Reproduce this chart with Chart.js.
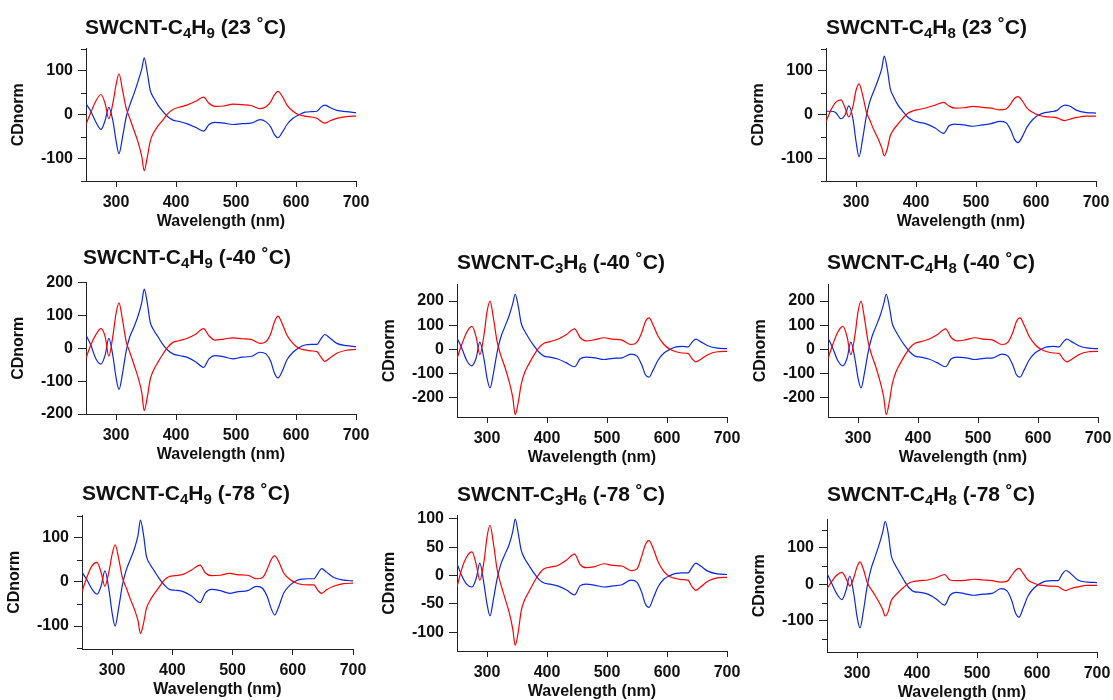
<!DOCTYPE html>
<html>
<head>
<meta charset="utf-8">
<script src="https://cdn.jsdelivr.net/npm/chart.js@4.4.1/dist/chart.umd.min.js"></script>
<style>
  html, body { margin: 0; padding: 0; background: #fff; }
  body { width: 1113px; height: 700px; position: relative; overflow: hidden;
         font-family: "Liberation Sans", Arial, Helvetica, sans-serif; }
  canvas { position: absolute; }
  .ttl { position: absolute; font-weight: bold; font-size: 21px; line-height: 20px;
         color: #111; white-space: nowrap; }
  .ttl sub { font-size: 15px; line-height: 0; vertical-align: -4px; }
</style>
</head>
<body>
<script>
// Wavelength grid (nm) shared by every CD spectrum
const wavelength = [250, 258, 266, 275, 282, 288, 295, 300, 305, 311,
  317, 323, 330, 337, 343, 347, 352, 357, 363, 370,
  378, 386, 395, 405, 418, 432, 446, 455, 465, 480,
  495, 510, 525, 540, 550, 558, 564, 570, 577, 585,
  595, 605, 615, 625, 635, 642, 648, 656, 668, 684, 700];

// SWCNT-C4H9, 23 °C
const c4h9_23_red = [-21, 5, 30, 46, 25, -9, 28, 67, 93, 55, 15, -8, -35, -63, -95, -127, -97, -60, -40, -25,
  -12, 2, 12, 17, 22, 30, 40, 26, 19, 20, 24, 23, 21, 14, 18, 30, 45, 53, 42, 22, 8, 0, -3, -5, -8, -15, -19, -14, -8, -4, -3];
const c4h9_23_blue = [25, 8, -15, -33, -12, 17, -15, -58, -88, -50, -5, 22, 48, 77, 104, 129, 97, 56, 38, 22,
  8, -4, -12, -15, -20, -28, -37, -22, -17, -19, -22, -20, -19, -11, -16, -28, -45, -52, -40, -22, -8, 0, 6, 7, 8, 18, 22, 17, 10, 7, 5];

// SWCNT-C4H9, -40 °C
const c4h9_m40_red = [-30, 10, 40, 60, 35, -24, 40, 105, 138, 85, 20, -12, -50, -90, -135, -190, -150, -95, -65, -42,
  -18, 3, 18, 23, 30, 42, 60, 38, 25, 28, 32, 29, 27, 15, 20, 45, 80, 98, 75, 40, 15, 0, -5, -8, -10, -28, -40, -30, -15, -6, -3];
const c4h9_m40_blue = [40, 10, -30, -48, -20, 30, -25, -88, -125, -75, -8, 35, 65, 100, 140, 180, 140, 80, 55, 35,
  12, -5, -17, -22, -27, -40, -58, -32, -22, -26, -32, -27, -25, -12, -17, -40, -75, -90, -70, -35, -12, 2, 10, 12, 12, 30, 42, 32, 15, 8, 5];

// SWCNT-C4H9, -78 °C
const c4h9_m78_red = [-22, 10, 35, 44, 20, -10, 25, 62, 84, 52, 10, -12, -38, -62, -88, -117, -95, -60, -42, -27,
  -12, 3, 12, 14, 17, 27, 38, 20, 14, 15, 19, 16, 15, 7, 10, 30, 50, 59, 45, 20, 6, -2, -6, -7, -7, -20, -26, -18, -10, -4, -3];
const c4h9_m78_blue = [22, 5, -15, -28, -8, 25, -20, -70, -100, -58, -8, 25, 50, 75, 105, 140, 108, 58, 40, 25,
  8, -6, -17, -19, -22, -32, -47, -25, -17, -20, -26, -22, -20, -10, -15, -35, -60, -75, -55, -25, -8, 2, 6, 7, 7, 20, 30, 22, 10, 4, 2];

// SWCNT-C3H6, -40 °C
const c3h6_m40_red = [-38, 20, 70, 95, 50, -22, 60, 155, 200, 125, 30, -25, -75, -135, -200, -270, -220, -145, -95, -60,
  -25, 5, 25, 32, 42, 60, 85, 50, 35, 40, 48, 42, 38, 20, 30, 70, 115, 130, 100, 55, 20, 0, -10, -15, -17, -40, -52, -42, -22, -10, -8];
const c3h6_m40_blue = [47, 5, -45, -68, -35, 30, -40, -118, -160, -95, -10, 50, 95, 140, 190, 228, 180, 108, 75, 45,
  15, -10, -28, -32, -40, -55, -72, -40, -32, -35, -42, -37, -35, -20, -28, -65, -105, -115, -85, -45, -15, 0, 10, 12, 10, 30, 42, 32, 15, 5, 3];

// SWCNT-C3H6, -78 °C
const c3h6_m78_red = [-20, 12, 33, 42, 20, -8, 25, 68, 89, 55, 10, -15, -40, -65, -95, -123, -100, -62, -42, -28,
  -12, 2, 12, 15, 18, 27, 38, 20, 14, 16, 21, 18, 17, 9, 12, 35, 55, 62, 48, 25, 7, -2, -5, -7, -8, -20, -26, -20, -10, -4, -3];
const c3h6_m78_blue = [21, 0, -15, -20, -5, 22, -15, -50, -71, -40, -5, 20, 38, 55, 78, 100, 75, 45, 30, 18,
  5, -6, -13, -15, -18, -25, -34, -18, -15, -17, -20, -18, -16, -8, -12, -30, -50, -56, -40, -20, -6, 0, 4, 5, 5, 15, 22, 17, 8, 3, 2];

// SWCNT-C4H8, 23 °C
const c4h8_23_red = [-15, 10, 28, 34, 15, -5, 20, 55, 70, 45, 8, -12, -35, -55, -75, -93, -78, -48, -33, -21,
  -8, 3, 9, 12, 16, 22, 28, 20, 15, 16, 19, 17, 15, 11, 13, 25, 37, 41, 32, 15, 5, -1, -4, -5, -7, -11, -13, -10, -6, -3, -3];
const c4h8_23_blue = [8, 8, 5, -9, 0, 20, -10, -60, -95, -55, -5, 30, 55, 80, 105, 133, 105, 60, 40, 22,
  8, -5, -13, -17, -21, -30, -42, -25, -21, -23, -26, -23, -20, -15, -18, -35, -55, -63, -50, -28, -10, 0, 5, 7, 10, 18, 22, 20, 10, 5, 4];

// SWCNT-C4H8, -40 °C
const c4h8_m40_red = [-38, 20, 70, 95, 50, -22, 60, 155, 200, 125, 30, -25, -75, -135, -200, -270, -220, -145, -95, -60,
  -25, 5, 25, 32, 42, 60, 85, 50, 35, 40, 48, 42, 38, 20, 30, 70, 115, 130, 100, 55, 20, 0, -10, -15, -17, -40, -52, -42, -22, -10, -8];
const c4h8_m40_blue = [47, 5, -45, -68, -35, 30, -40, -118, -160, -95, -10, 50, 95, 140, 190, 228, 180, 108, 75, 45,
  15, -10, -28, -32, -40, -55, -72, -40, -32, -35, -42, -37, -35, -20, -28, -65, -105, -115, -85, -45, -15, 0, 10, 12, 10, 30, 42, 32, 15, 5, 3];

// SWCNT-C4H8, -78 °C
const c4h8_m78_red = [-12, 8, 25, 33, 15, -5, 20, 48, 62, 40, 5, -12, -30, -50, -70, -87, -75, -45, -32, -20,
  -8, 3, 8, 10, 12, 18, 27, 12, 10, 11, 14, 12, 10, 6, 8, 25, 38, 44, 30, 12, 3, -2, -4, -5, -6, -13, -17, -12, -7, -3, -3];
const c4h8_m78_blue = [30, 2, -25, -42, -15, 23, -30, -88, -120, -70, -5, 40, 75, 110, 145, 173, 140, 80, 55, 35,
  12, -8, -20, -22, -27, -40, -57, -30, -22, -26, -30, -27, -25, -12, -18, -45, -78, -90, -65, -32, -10, 2, 9, 10, 10, 28, 38, 30, 12, 6, 5];

// Axis ticks
const xTicks = [300, 400, 500, 600, 700];
const yTicks150 = [-150, -100, -50, 0, 50, 100, 150];
const yTicks200 = [-200, -100, 0, 100, 200];
const yTicks50 = [-100, -50, 0, 50, 100];
const xLabel = 'Wavelength (nm)';
const yLabel = 'CDnorm';

// Panel titles (HTML, so the subscripts render properly)
const titles = {
  c4h9_23:  'SWCNT-C<sub>4</sub>H<sub>9</sub> (23 ˚C)',
  c4h9_m40: 'SWCNT-C<sub>4</sub>H<sub>9</sub> (-40 ˚C)',
  c4h9_m78: 'SWCNT-C<sub>4</sub>H<sub>9</sub> (-78 ˚C)',
  c3h6_m40: 'SWCNT-C<sub>3</sub>H<sub>6</sub> (-40 ˚C)',
  c3h6_m78: 'SWCNT-C<sub>3</sub>H<sub>6</sub> (-78 ˚C)',
  c4h8_23:  'SWCNT-C<sub>4</sub>H<sub>8</sub> (23 ˚C)',
  c4h8_m40: 'SWCNT-C<sub>4</sub>H<sub>8</sub> (-40 ˚C)',
  c4h8_m78: 'SWCNT-C<sub>4</sub>H<sub>8</sub> (-78 ˚C)'
};

// ---- layout & styling ----
const RED = '#ff0000';
const BLUE = '#0a28e6';
const INK = '#111111';
const AXIS = '#222222';
const FONT_FAMILY = '"Liberation Sans", Arial, Helvetica, sans-serif';
const Y_W = 86;     // width reserved for y axis (ticks, labels, title)
const X_H = 60;     // height reserved for x axis
const PAD_T = 12;
const PAD_R = 24;

const panels = [
  { key: 'c4h9_23',  red: c4h9_23_red,  blue: c4h9_23_blue,  left: 86,  top: 46,  w: 270, h: 135, min: -150, max: 150, ticks: yTicks150, label: 100, tl: 85,  ty: 27 },
  { key: 'c4h8_23',  red: c4h8_23_red,  blue: c4h8_23_blue,  left: 826, top: 46,  w: 270, h: 135, min: -150, max: 150, ticks: yTicks150, label: 100, tl: 826, ty: 27 },
  { key: 'c4h9_m40', red: c4h9_m40_red, blue: c4h9_m40_blue, left: 86,  top: 280, w: 270, h: 134, min: -200, max: 200, ticks: yTicks200, label: 100, tl: 83,  ty: 257 },
  { key: 'c3h6_m40', red: c3h6_m40_red, blue: c3h6_m40_blue, left: 457, top: 282, w: 270, h: 135, min: -280, max: 268, ticks: yTicks200, label: 100, tl: 457, ty: 262 },
  { key: 'c4h8_m40', red: c4h8_m40_red, blue: c4h8_m40_blue, left: 828, top: 282, w: 270, h: 135, min: -280, max: 268, ticks: yTicks200, label: 100, tl: 827, ty: 262 },
  { key: 'c4h9_m78', red: c4h9_m78_red, blue: c4h9_m78_blue, left: 82,  top: 513, w: 271, h: 136, min: -152, max: 150, ticks: yTicks150, label: 100, tl: 82,  ty: 493 },
  { key: 'c3h6_m78', red: c3h6_m78_red, blue: c3h6_m78_blue, left: 457, top: 513, w: 270, h: 138, min: -133, max: 106, ticks: yTicks50,  label: 50,  tl: 457, ty: 494 },
  { key: 'c4h8_m78', red: c4h8_m78_red, blue: c4h8_m78_blue, left: 827, top: 517, w: 270, h: 135, min: -186, max: 178, ticks: yTicks150, label: 100, tl: 827, ty: 494 }
];

const toXY = (vals) => wavelength.map((x, i) => ({ x, y: vals[i] }));
const isMajor = (v, step) => Math.abs(v % step) < 1e-9;

// Short minor ticks on the y axis (values that carry no label)
const minorTicks = {
  id: 'minorTicks',
  afterDraw(chart, args, opts) {
    const y = chart.scales.y;
    const ctx = chart.ctx;
    const left = chart.chartArea.left;
    ctx.save();
    ctx.strokeStyle = AXIS;
    ctx.lineWidth = 1;
    y.ticks.forEach((t) => {
      if (!isMajor(t.value, opts.label)) {
        const py = Math.round(y.getPixelForValue(t.value)) + 0.5;
        ctx.beginPath();
        ctx.moveTo(left - 5, py);
        ctx.lineTo(left, py);
        ctx.stroke();
      }
    });
    ctx.restore();
  }
};

function makePanel(p) {
  const cw = Y_W + p.w + PAD_R;
  const ch = PAD_T + p.h + X_H;
  const cv = document.createElement('canvas');
  cv.width = cw; cv.height = ch;
  cv.style.left = (p.left - Y_W) + 'px';
  cv.style.top = (p.top - PAD_T) + 'px';
  cv.style.width = cw + 'px';
  cv.style.height = ch + 'px';
  document.body.appendChild(cv);

  const t = document.createElement('div');
  t.className = 'ttl';
  t.innerHTML = titles[p.key];
  t.style.left = p.tl + 'px';
  t.style.top = (p.ty - 10) + 'px';
  document.body.appendChild(t);

  const tickFont = { family: FONT_FAMILY, size: 16, weight: 'bold' };

  new Chart(cv, {
    type: 'line',
    data: {
      datasets: [
        { data: toXY(p.red), borderColor: RED, borderWidth: 1.2, pointRadius: 0, fill: false, cubicInterpolationMode: 'monotone' },
        { data: toXY(p.blue), borderColor: BLUE, borderWidth: 1.2, pointRadius: 0, fill: false, cubicInterpolationMode: 'monotone' }
      ]
    },
    options: {
      responsive: false,
      animation: false,
      devicePixelRatio: 1,
      events: [],
      layout: { padding: { left: 0, top: PAD_T, right: PAD_R, bottom: 0 } },
      plugins: { legend: { display: false }, tooltip: { enabled: false }, title: { display: false }, minorTicks: { label: p.label } },
      scales: {
        x: {
          type: 'linear', min: 250, max: 700,
          afterFit(s) { s.height = X_H; },
          afterBuildTicks(s) { s.ticks = xTicks.map(v => ({ value: v })); },
          ticks: { font: tickFont, color: INK, padding: 6, maxRotation: 0, autoSkip: false },
          grid: { drawOnChartArea: false, tickLength: 6, tickColor: AXIS, tickWidth: 1 },
          border: { color: AXIS, width: 1 },
          title: { display: true, text: xLabel, color: INK, font: tickFont, padding: { top: 0, bottom: 10 } }
        },
        y: {
          type: 'linear', min: p.min, max: p.max,
          afterFit(s) { s.width = Y_W; },
          afterBuildTicks(s) { s.ticks = p.ticks.map(v => ({ value: v })); },
          ticks: {
            autoSkip: false,
            font: tickFont, color: INK, padding: 5,
            callback: (v) => (isMajor(v, p.label) ? String(v) : '')
          },
          grid: {
            drawOnChartArea: false, tickLength: 8, tickWidth: 1,
            tickColor: (c) => (c.tick && isMajor(c.tick.value, p.label) ? AXIS : 'rgba(0,0,0,0)')
          },
          border: { color: AXIS, width: 1 },
          title: { display: true, text: yLabel, color: INK, font: tickFont, padding: { top: 9, bottom: 0 } }
        }
      }
    },
    plugins: [minorTicks]
  });
}

panels.forEach(makePanel);
</script>
</body>
</html>
